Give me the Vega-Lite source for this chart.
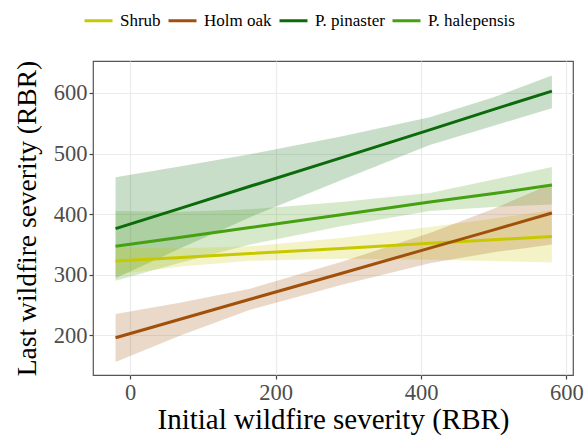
{
  "$schema": "https://vega.github.io/schema/vega-lite/v6.json",
  "width": 480,
  "height": 314,
  "autosize": {"type": "none"},
  "padding": {"left": 93, "top": 61, "right": 14, "bottom": 63},
  "background": "white",
  "config": {
    "font": "Liberation Serif",
    "view": {"stroke": "#555555", "strokeWidth": 1.2},
    "legend": {"labelFont": "Liberation Serif", "titleFont": "Liberation Serif"},
    "axis": {
      "grid": true, "gridColor": "#ebebeb", "gridWidth": 1.2,
      "domain": false, "tickColor": "#444444", "tickSize": 4, "tickWidth": 1.2,
      "labelFont": "Liberation Serif", "labelFontSize": 22.5, "labelColor": "#4d4d4d",
      "titleFont": "Liberation Serif", "titleFontWeight": "normal", "titleColor": "#000000"
    }
  },
  "data": {
    "values": [
      {"species": "P. pinaster", "x": -20, "fit": 376, "lo": 294, "hi": 461},
      {"species": "P. pinaster", "x": 70, "fit": 410, "lo": 344, "hi": 479},
      {"species": "P. pinaster", "x": 165, "fit": 446, "lo": 395, "hi": 499},
      {"species": "P. pinaster", "x": 290, "fit": 493, "lo": 456, "hi": 528},
      {"species": "P. pinaster", "x": 412, "fit": 539, "lo": 514, "hi": 560},
      {"species": "P. pinaster", "x": 500, "fit": 573, "lo": 546, "hi": 593},
      {"species": "P. pinaster", "x": 580, "fit": 603, "lo": 575, "hi": 629},
      {"species": "P. halepensis", "x": -20, "fit": 347, "lo": 290, "hi": 405},
      {"species": "P. halepensis", "x": 70, "fit": 362, "lo": 320, "hi": 404},
      {"species": "P. halepensis", "x": 165, "fit": 378, "lo": 350, "hi": 408},
      {"species": "P. halepensis", "x": 290, "fit": 399, "lo": 380, "hi": 420},
      {"species": "P. halepensis", "x": 412, "fit": 420, "lo": 405, "hi": 435},
      {"species": "P. halepensis", "x": 500, "fit": 434, "lo": 412, "hi": 457},
      {"species": "P. halepensis", "x": 580, "fit": 448, "lo": 416, "hi": 478},
      {"species": "Shrub", "x": -20, "fit": 322.5, "lo": 300.5, "hi": 344.5},
      {"species": "Shrub", "x": 70, "fit": 328.6, "lo": 313.6, "hi": 343.6},
      {"species": "Shrub", "x": 165, "fit": 335.1, "lo": 323, "hi": 347},
      {"species": "Shrub", "x": 290, "fit": 343.5, "lo": 326.5, "hi": 360.5},
      {"species": "Shrub", "x": 412, "fit": 351.8, "lo": 324.8, "hi": 378.8},
      {"species": "Shrub", "x": 500, "fit": 357.8, "lo": 322.8, "hi": 392.8},
      {"species": "Shrub", "x": 580, "fit": 363.3, "lo": 320.3, "hi": 406.3},
      {"species": "Holm oak", "x": -20, "fit": 196, "lo": 156, "hi": 235},
      {"species": "Holm oak", "x": 70, "fit": 227, "lo": 200, "hi": 254},
      {"species": "Holm oak", "x": 165, "fit": 259.5, "lo": 242, "hi": 277},
      {"species": "Holm oak", "x": 290, "fit": 302, "lo": 283, "hi": 321},
      {"species": "Holm oak", "x": 412, "fit": 344, "lo": 319, "hi": 369},
      {"species": "Holm oak", "x": 500, "fit": 374, "lo": 337, "hi": 409},
      {"species": "Holm oak", "x": 580, "fit": 402, "lo": 350, "hi": 450}
    ]
  },
  "encoding": {
    "x": {
      "field": "x", "type": "quantitative",
      "scale": {"domain": [-51, 609], "nice": false, "zero": false},
      "axis": {"values": [0, 200, 400, 600], "title": "Initial wildfire severity (RBR)", "titleFontSize": 29, "titlePadding": 2, "labelPadding": 2, "labelFont": "Liberation Serif", "titleFont": "Liberation Serif"}
    },
    "color": {
      "field": "species", "type": "nominal",
      "scale": {
        "domain": ["Shrub", "Holm oak", "P. pinaster", "P. halepensis"],
        "range": ["#c8c800", "#a0500a", "#0b6b0b", "#45a012"]
      },
      "legend": {
        "title": null, "orient": "none", "direction": "horizontal",
        "legendX": -10, "legendY": -56, "padding": 0,
        "symbolType": "stroke", "symbolSize": 784, "symbolStrokeWidth": 3, "symbolOpacity": 1,
        "labelFontSize": 17, "labelFont": "Liberation Serif", "labelColor": "#000000",
        "labelOffset": 6, "columnPadding": 1
      }
    }
  },
  "layer": [
    {
      "mark": {"type": "area", "opacity": 0.22},
      "encoding": {
        "y": {
          "field": "lo", "type": "quantitative",
          "scale": {"domain": [134.5, 652.8], "nice": false, "zero": false},
          "axis": {"values": [200, 300, 400, 500, 600], "title": "Last wildfire severity (RBR)", "titleFontSize": 27.5, "titlePadding": 12, "labelPadding": 2, "labelFont": "Liberation Serif", "titleFont": "Liberation Serif"}
        },
        "y2": {"field": "hi"}
      }
    },
    {
      "mark": {"type": "line", "strokeWidth": 3},
      "encoding": {
        "y": {"field": "fit", "type": "quantitative"}
      }
    }
  ]
}
